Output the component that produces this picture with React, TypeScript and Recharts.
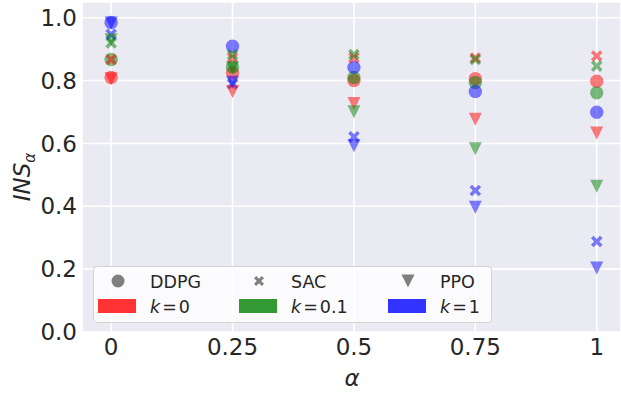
import React from "react";
import {
    ScatterChart,
    Scatter,
    XAxis,
    YAxis,
    CartesianGrid,
} from "recharts";

const alphas = [0, 0.25, 0.5, 0.75, 1];
const xTickLabels = ["0", "0.25", "0.5", "0.75", "1"];
const yTicks = [0, 0.2, 0.4, 0.6, 0.8, 1.0];

const ddpgK0 = [0.81, 0.825, 0.8, 0.806, 0.798];
const ddpgK01 = [0.867, 0.843, 0.81, 0.794, 0.761];
const ddpgK1 = [0.985, 0.909, 0.842, 0.765, 0.699];

const sacK0 = [0.867, 0.873, 0.873, 0.872, 0.878];
const sacK01 = [0.92, 0.882, 0.883, 0.867, 0.846];
const sacK1 = [0.947, 0.79, 0.621, 0.45, 0.288];

const ppoK0 = [0.806, 0.765, 0.727, 0.677, 0.633];
const ppoK01 = [0.93, 0.84, 0.701, 0.583, 0.464];
const ppoK1 = [0.983, 0.795, 0.593, 0.397, 0.204];

const RED = "#ff0000";
const GREEN = "#008000";
const BLUE = "#0000ff";
const TEXT = "#262626";
const FONT = "DejaVu Sans";

const toPoints = (vals: number[]) => alphas.map((a, i) => ({ x: a, y: vals[i] }));

const Circle = (props: any) => (
    <circle cx={props.cx} cy={props.cy} r={6.7} fill={props.fill} fillOpacity={0.5} />
);

const xPath = (cx: number, cy: number, s: number, t: number) => {
    const p = [
        [0, -t], [s - t, -s], [s, -s + t], [t, 0], [s, s - t], [s - t, s],
        [0, t], [-s + t, s], [-s, s - t], [-t, 0], [-s, -s + t], [-s + t, -s],
    ];
    return "M" + p.map(([x, y]) => `${cx + x},${cy + y}`).join("L") + "Z";
};

const Cross = (props: any) => (
    <path d={xPath(props.cx, props.cy, 5.8, 2.5)} fill={props.fill} fillOpacity={0.5} />
);

const triPath = (cx: number, cy: number, h: number) =>
    `M${cx - h},${cy - h}L${cx + h},${cy - h}L${cx},${cy + h}Z`;

const TriDown = (props: any) => (
    <path d={triPath(props.cx, props.cy, 6.5)} fill={props.fill} fillOpacity={0.5} />
);

const series = [
    { name: "DDPG k=0", data: ddpgK0, color: RED, shape: Circle },
    { name: "DDPG k=0.1", data: ddpgK01, color: GREEN, shape: Circle },
    { name: "DDPG k=1", data: ddpgK1, color: BLUE, shape: Circle },
    { name: "SAC k=0", data: sacK0, color: RED, shape: Cross },
    { name: "SAC k=0.1", data: sacK01, color: GREEN, shape: Cross },
    { name: "SAC k=1", data: sacK1, color: BLUE, shape: Cross },
    { name: "PPO k=0", data: ppoK0, color: RED, shape: TriDown },
    { name: "PPO k=0.1", data: ppoK01, color: GREEN, shape: TriDown },
    { name: "PPO k=1", data: ppoK1, color: BLUE, shape: TriDown },
];

const legendAlgos = ["DDPG", "SAC", "PPO"];
const legendKs = [
    { k: "0", color: "#ff3333" },
    { k: "0.1", color: "#339933" },
    { k: "1", color: "#3333ff" },
];

function LegendBox() {
    const colX = [0, 141, 290];
    const textStyle = { fontFamily: FONT, fontSize: 17.5, fill: TEXT };
    return (
        <div
            style={{
                position: "absolute",
                left: 93,
                top: 266,
                width: 399,
                height: 57,
                boxSizing: "border-box",
                border: "1px solid #d4d4d4",
                borderRadius: 4,
                background: "rgba(255,255,255,0.8)",
            }}
        >
            <svg width={397} height={55} style={{ display: "block" }}>
                {legendAlgos.map((name, i) => {
                    const mx = colX[i] + 24;
                    const my = 14;
                    let marker;
                    if (i === 0) marker = <circle cx={mx} cy={my} r={6.5} fill="#808080" />;
                    else if (i === 1) marker = <path d={xPath(mx, my, 5, 2.2)} fill="#808080" />;
                    else marker = <path d={triPath(mx, my, 6.5)} fill="#808080" />;
                    return (
                        <g key={name}>
                            {marker}
                            <text x={colX[i] + 56} y={my + 6.5} {...textStyle}>
                                {name}
                            </text>
                        </g>
                    );
                })}
                {legendKs.map((item, i) => (
                    <g key={item.k}>
                        <rect x={colX[i] + 4} y={32} width={38} height={14} fill={item.color} />
                        <text x={colX[i] + 56} y={45.5} {...textStyle}>
                            <tspan fontStyle="italic">k</tspan>
                            <tspan dx={2}>=</tspan>
                            <tspan dx={2}>{item.k}</tspan>
                        </text>
                    </g>
                ))}
            </svg>
        </div>
    );
}

const YLabel = () => (
    <text
        x={30}
        y={177}
        transform="rotate(-90, 30, 177)"
        textAnchor="middle"
        fontFamily={FONT}
        fontSize={23}
        fill={TEXT}
        fontStyle="italic"
    >
        INS
        <tspan fontSize={15} dy={5}>α</tspan>
    </text>
);

const XLabel = () => (
    <text x={352} y={386} textAnchor="middle" fontFamily={FONT} fontSize={23} fill={TEXT} fontStyle="italic">
        α
    </text>
);

export default function App() {
    return (
        <div style={{ position: "absolute", left: 0, top: 0, width: 621, height: 395, background: "#fff" }}>
            <ScatterChart width={621} height={395} margin={{ top: 2, right: 0, bottom: 0, left: 0 }}>
                <CartesianGrid fill="#eaeaf2" stroke="#ffffff" strokeWidth={1.6} />
                <XAxis
                    type="number"
                    dataKey="x"
                    domain={[-0.06, 1.05]}
                    ticks={alphas}
                    allowDataOverflow
                    height={63}
                    axisLine={false}
                    tickLine={false}
                    tickSize={0}
                    tickMargin={7}
                    tickFormatter={(v: number) => xTickLabels[alphas.indexOf(v)] ?? String(v)}
                    tick={{ fill: TEXT, fontSize: 23, fontFamily: FONT }}
                />
                <YAxis
                    type="number"
                    dataKey="y"
                    domain={[0, 1.05]}
                    ticks={yTicks}
                    allowDataOverflow
                    width={82}
                    axisLine={false}
                    tickLine={false}
                    tickSize={0}
                    tickMargin={5}
                    tickFormatter={(v: number) => v.toFixed(1)}
                    tick={{ fill: TEXT, fontSize: 23, fontFamily: FONT }}
                />
                {series.map((s) => (
                    <Scatter
                        key={s.name}
                        name={s.name}
                        data={toPoints(s.data)}
                        fill={s.color}
                        shape={s.shape}
                        isAnimationActive={false}
                    />
                ))}
                <YLabel />
                <XLabel />
            </ScatterChart>
            <LegendBox />
        </div>
    );
}
